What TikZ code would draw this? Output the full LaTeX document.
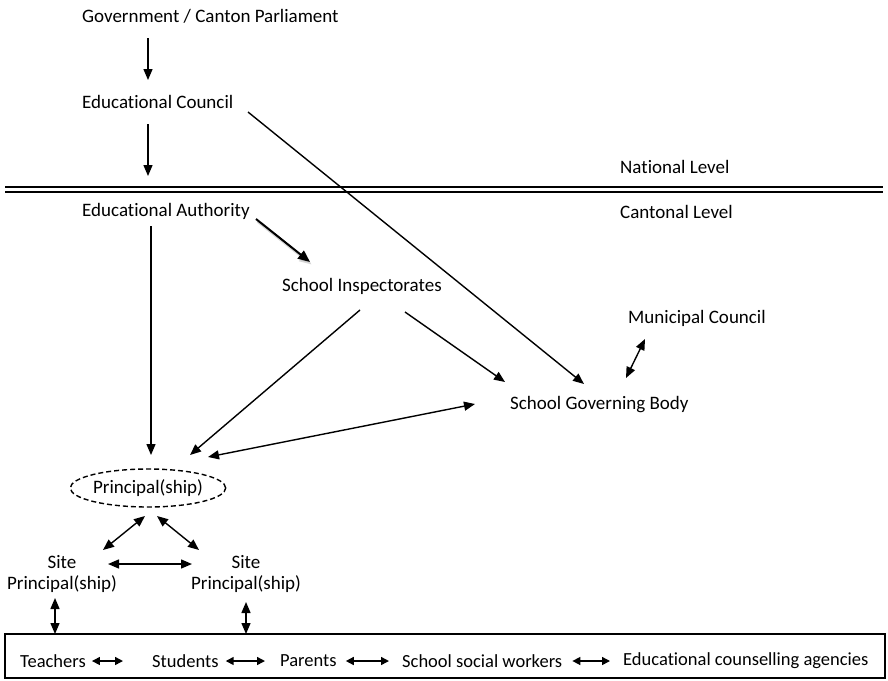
\documentclass[tikz,border=0pt]{standalone}
\usepackage{fontspec}
\setmainfont{Carlito}[Ligatures=NoCommon]
\usetikzlibrary{arrows.meta,shapes.geometric}
\begin{document}
\begin{tikzpicture}[x=1pt,y=-1pt,
 lbl/.style={font=\fontsize{19}{22}\selectfont, inner sep=0pt, anchor=west},
 blbl/.style={font=\fontsize{18.5}{22}\selectfont, inner sep=0pt, anchor=west},
 arr/.style={line width=1.4pt, -{Triangle[length=11pt,width=9pt]}},
 darr/.style={line width=1.4pt, {Triangle[length=11pt,width=9pt]}-{Triangle[length=11pt,width=9pt]}},
 sarr/.style={line width=1.5pt, {Triangle[length=8pt,width=8pt]}-{Triangle[length=8pt,width=8pt]}}]
\useasboundingbox (0,0) rectangle (888,680);
% texts
\node[lbl] (gov) at (82,16) {Government / Canton Parliament};
\node[lbl] (ec) at (82,102) {Educational Council};
\node[lbl] (nat) at (620,167) {National Level};
\node[lbl] (ea) at (82,211) {Educational Authority};
\node[lbl] (cant) at (620,212) {Cantonal Level};
\node[lbl] (si) at (282,286) {School Inspectorates};
\node[lbl] (mc) at (628,318) {Municipal Council};
\node[lbl] (sgb) at (510,405) {School Governing Body};
\node[ellipse, draw, dash pattern=on 5pt off 3pt, line width=1.4pt, minimum width=140pt, minimum height=38pt, inner sep=0pt,
  font=\fontsize{19}{22}\selectfont] (pr) at (148,488) {Principal(ship)};
\node[font=\fontsize{19}{21}\selectfont, align=center, inner sep=0pt] (sp1) at (62,574) {Site\\Principal(ship)};
\node[font=\fontsize{19}{21}\selectfont, align=center, inner sep=0pt] (sp2) at (246,574) {Site\\Principal(ship)};
% level separator
\coordinate (dl1) at (5,187); \coordinate (dr1) at (883,187);
\coordinate (dl2) at (5,192); \coordinate (dr2) at (883,192);
\draw[line width=1.2pt] (dl1) -- (dr1);
\draw[line width=1.2pt] (dl2) -- (dr2);
% bottom box
\node[draw, line width=1.2pt, minimum width=880pt, minimum height=44pt, inner sep=0pt] (box) at (445,656) {};
\node[blbl] (t) at (20,661) {Teachers};
\node[blbl] (s) at (152,661) {Students};
\node[blbl] (p) at (280,661) {Parents};
\node[blbl] (w) at (402,661) {School social workers};
\node[blbl] (a) at (623,661) {Educational counselling agencies};
\draw[sarr] ([xshift=6pt]t.east) -- ([xshift=-29pt]s.west);
\draw[sarr] ([xshift=7pt]s.east) -- ([xshift=-15pt]p.west);
\draw[sarr] ([xshift=9pt]p.east) -- ([xshift=-13pt]w.west);
\draw[sarr] ([xshift=10pt]w.east) -- ([xshift=-13pt]a.west);
% arrows
\coordinate (g1) at (148,38); \coordinate (e1) at (148,80);
\draw[arr] (g1) -- (e1);
\coordinate (e2) at (148,124); \coordinate (a1) at (148,176);
\draw[arr] (e2) -- (a1);
\coordinate (e3) at (248,112); \coordinate (b1) at (584,384);
\draw[arr] (e3) -- (b1);
\coordinate (a2) at (256,219); \coordinate (i1) at (310,262);
\draw[line width=2.4pt, gray!45, opacity=0.7, -{Triangle[length=12pt,width=10pt]}] ([shift={(1.5,2.5)}]a2) -- ([shift={(1.5,2.5)}]i1);
\draw[line width=2pt, -{Triangle[length=12pt,width=10pt]}] (a2) -- (i1);
\coordinate (a3) at (151,226); \coordinate (p1) at (151,455);
\draw[arr] (a3) -- (p1);
\coordinate (i2) at (360,310); \coordinate (p2) at (190,455);
\draw[arr] (i2) -- (p2);
\coordinate (i3) at (405,312); \coordinate (b2) at (505,382);
\draw[arr] (i3) -- (b2);
\coordinate (b3) at (626,378); \coordinate (m1) at (645,339);
\draw[darr] (b3) -- (m1);
\coordinate (b4) at (475,404); \coordinate (p3) at (208,457);
\draw[darr] (b4) -- (p3);
\coordinate (p4) at (145,516); \coordinate (q1) at (103,550);
\draw[darr] (p4) -- (q1);
\coordinate (p5) at (157,516); \coordinate (q2) at (199,550);
\draw[darr] (p5) -- (q2);
\coordinate (q3) at (108,564); \coordinate (q4) at (192,564);
\draw[darr] (q3) -- (q4);
\coordinate (q5) at (55,598); \coordinate (x1) at (55,634);
\draw[darr] (q5) -- (x1);
\coordinate (q6) at (246,602); \coordinate (x2) at (246,634);
\draw[darr] (q6) -- (x2);
\end{tikzpicture}
\end{document}
